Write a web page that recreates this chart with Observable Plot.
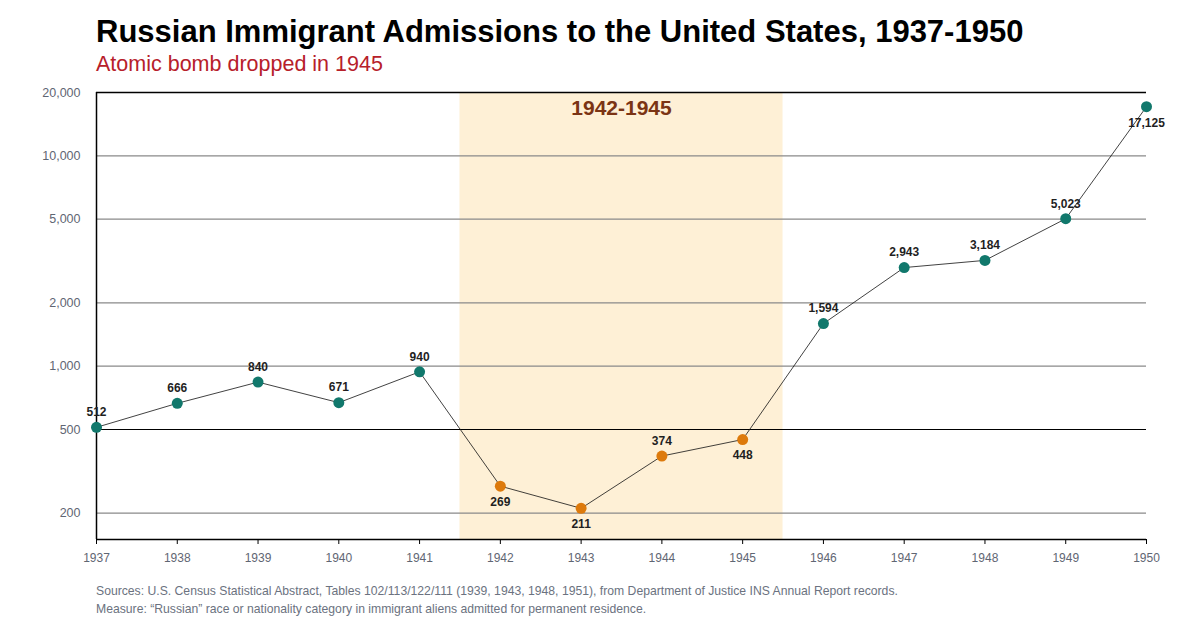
<!DOCTYPE html>
<html>
<head>
<meta charset="utf-8">
<script src="https://cdn.jsdelivr.net/npm/d3@7"></script>
<script src="https://cdn.jsdelivr.net/npm/@observablehq/plot@0.6"></script>
<style>
  html, body { margin: 0; padding: 0; background: #fff; }
  body { width: 1200px; height: 625px; overflow: hidden; font-family: "Liberation Sans", Arial, sans-serif; }
  #head { height: 82px; position: relative; }
  #title { position: absolute; left: 96px; top: 16px; font-size: 31px; line-height: 1; font-weight: bold; color: #000; white-space: nowrap; }
  #subtitle { position: absolute; left: 96px; top: 54px; font-size: 21.5px; line-height: 1; color: #b7202a; white-space: nowrap; }
  #foot { padding-left: 96px; font-size: 12.2px; color: #6b7280; line-height: 18px; margin-top: 5px; }
  svg { display: block; }
</style>
</head>
<body>
<div id="head">
  <div id="title">Russian Immigrant Admissions to the United States, 1937-1950</div>
  <div id="subtitle">Atomic bomb dropped in 1945</div>
</div>
<div id="chart"></div>
<div id="foot">
  <div>Sources: U.S. Census Statistical Abstract, Tables 102/113/122/111 (1939, 1943, 1948, 1951), from Department of Justice INS Annual Report records.</div>
  <div>Measure: “Russian” race or nationality category in immigrant aliens admitted for permanent residence.</div>
</div>
<script>
const years = [1937, 1938, 1939, 1940, 1941, 1942, 1943, 1944, 1945, 1946, 1947, 1948, 1949, 1950];
const admissions = [512, 666, 840, 671, 940, 269, 211, 374, 448, 1594, 2943, 3184, 5023, 17125];
const labelBelow = [1942, 1943, 1945, 1950];
const warStart = 1942, warEnd = 1945;
const bandLabel = "1942-1945";
const yTicks = [200, 500, 1000, 2000, 5000, 10000, 20000];
const gridTicks = [200, 1000, 2000, 5000, 10000];
const yMin = 150, yMax = 20000;

const data = years.map((y, i) => ({
  year: y,
  value: admissions[i],
  war: y >= warStart && y <= warEnd,
  below: labelBelow.includes(y)
}));

const teal = "#11786c";
const orange = "#dd7a0c";
const fmt = d3.format(",");

const chart = Plot.plot({
  width: 1200,
  height: 495,
  marginTop: 10,
  marginLeft: 96,
  marginRight: 54,
  marginBottom: 38,
  style: { fontFamily: "Liberation Sans, Arial, sans-serif", background: "#fff" },
  x: { domain: [1937, 1950], ticks: years, tickFormat: "d" },
  y: { type: "log", domain: [yMin, yMax] },
  marks: [
    Plot.rect([{ x1: warStart - 0.5, x2: warEnd + 0.5 }], {
      x1: "x1", x2: "x2", y1: yMin, y2: yMax, fill: "#fef0d6"
    }),
    Plot.ruleY(gridTicks, { stroke: "#8a8a8a", strokeWidth: 1.2 }),
    Plot.ruleY([500], { stroke: "#000", strokeWidth: 1.2 }),
    Plot.ruleY([yMax], { stroke: "#000", strokeWidth: 1.5 }),
    Plot.ruleY([yMin], { stroke: "#000", strokeWidth: 1.5 }),
    Plot.ruleX([1937], { stroke: "#000", strokeWidth: 1.5 }),
    Plot.axisX({
      ticks: years, tickFormat: "d", tickSize: 5, tickPadding: 9,
      stroke: "#000", fill: "#5f6673", fontSize: 12, label: null
    }),
    Plot.axisY({
      ticks: yTicks, tickFormat: fmt, tickSize: 0, tickPadding: 16,
      fill: "#5f6673", fontSize: 12.5, label: null
    }),
    Plot.text([{ x: (warStart + warEnd) / 2, label: bandLabel }], {
      x: "x", y: yMax, text: "label", dy: 16,
      fill: "#7b3414", fontSize: 21, fontWeight: "bold"
    }),
    Plot.line(data, { x: "year", y: "value", stroke: "#111", strokeWidth: 0.8 }),
    Plot.dot(data, {
      x: "year", y: "value", r: 5.5,
      fill: d => d.war ? orange : teal, stroke: "none"
    }),
    Plot.text(data.filter(d => !d.below), {
      x: "year", y: "value", text: d => fmt(d.value), dy: -15,
      fill: "#1f1f1f", fontSize: 12, fontWeight: "bold"
    }),
    Plot.text(data.filter(d => d.below), {
      x: "year", y: "value", text: d => fmt(d.value), dy: 16,
      fill: "#1f1f1f", fontSize: 12, fontWeight: "bold"
    })
  ]
});
document.getElementById("chart").appendChild(chart);
</script>
</body>
</html>
